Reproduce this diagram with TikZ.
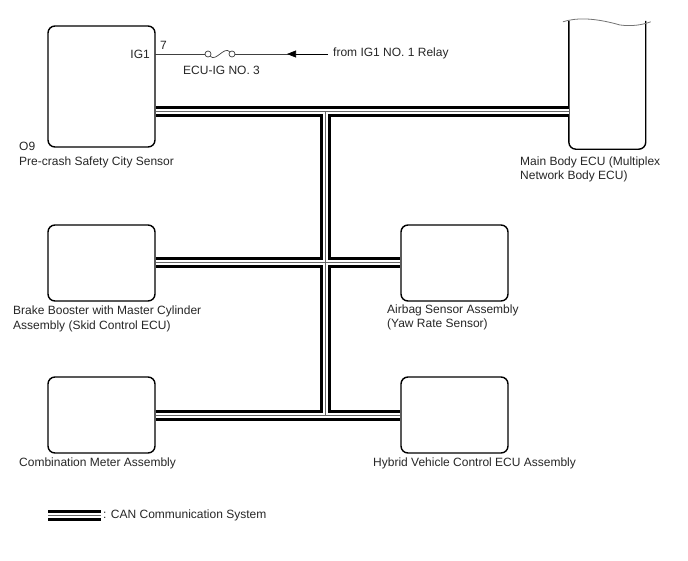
\documentclass[tikz,border=0pt]{standalone}
\usepackage{fontspec}
\setmainfont{Liberation Sans}
\usetikzlibrary{arrows.meta,positioning}
\begin{document}
\begin{tikzpicture}[
    x=1pt, y=-1pt,
    ecu/.style={draw, line width=1.4pt, rounded corners=7pt, minimum width=107pt, minimum height=76pt, inner sep=0pt},
    lbl/.style={inner sep=0pt, font=\fontsize{12pt}{14.5pt}\selectfont, align=left, text=black!85},
    wire/.style={line width=0.7pt, color=black!75},
    fuseend/.style={circle, draw, wire, fill=white, minimum size=6pt, inner sep=0pt},
    bus/.style={line width=11pt, color=black, postaction={draw, white, line width=5.4pt}, postaction={draw, black!60, line width=1.3pt}},
    arr/.style={-{Triangle[length=9pt,width=7pt]}, wire, color=black}
  ]
    \useasboundingbox (0,0) rectangle (688,560);
    \node[ecu, minimum height=121pt] (o9) at (101.5,86.5) {};
    \node[ecu] (brake) at (101.5,263) {};
    \node[ecu] (airbag) at (454.5,263) {};
    \node[ecu] (meter) at (101.5,415) {};
    \node[ecu] (hybrid) at (454.5,415) {};
    \node[minimum width=76.5pt, minimum height=128pt, inner sep=0pt] (main) at (607.3,85) {};
    \draw[line width=1.4pt, rounded corners=7pt] (main.north west) -- (main.south west) -- (main.south east) -- (main.north east);
    \draw[line width=0.8pt, color=black!55] ([xshift=-6pt,yshift=-1pt]main.north west) .. controls (575,18) and (592,17) .. (620,25) .. controls (632,26.5) and (642,25) .. ([xshift=5pt,yshift=-1pt]main.north east);
    % bus
    \coordinate (jtop) at (325.6,111.5);
    \coordinate (jmid) at (325.6,262.5);
    \coordinate (jbot) at (325.6,415.5);
    \draw[bus] (o9.east |- jtop) -- (main.west |- jtop) (jtop) -- (jbot)
      (brake.east |- jmid) -- (airbag.west |- jmid)
      (meter.east |- jbot) -- (hybrid.west |- jbot);
    % fuse line
    \coordinate (pin) at (155,54);
    \coordinate (feed) at (328,54);
    \coordinate (head) at (287,54);
    \node[fuseend] (fa) at (208,54) {};
    \node[fuseend] (fb) at (232,54) {};
    \draw[wire] (pin) -- (fa);
    \draw[wire] (fa) .. controls (216,62) and (224,46) .. (fb);
    \draw[wire] (fb) -- (feed);
    \draw[arr] (feed) -- (head);
    \node[lbl, anchor=west] (relay) at (333,53) {from IG1 NO. 1 Relay};
    \node[lbl, anchor=east] (ig) at (150,54) {IG1};
    \node[lbl, anchor=west] (seven) at (160,45) {7};
    \node[lbl, anchor=west] (fuse) at (183,70) {ECU-IG NO. 3};
    % labels
    \node[lbl, anchor=north west] (o9txt) at (19,142) {O9\\Pre-crash Safety City Sensor};
    \node[lbl, anchor=north west] (maintxt) at (520,156.5) {Main Body ECU (Multiplex\\Network Body ECU)};
    \node[lbl, anchor=north west] (braketxt) at (13,306) {Brake Booster with Master Cylinder\\Assembly (Skid Control ECU)};
    \node[lbl, anchor=north west] (airbagtxt) at (387,304.5) {Airbag Sensor Assembly\\(Yaw Rate Sensor)};
    \node[lbl, anchor=north west] (metertxt) at (19,458) {Combination Meter Assembly};
    \node[lbl, anchor=north west] (hybridtxt) at (373,458) {Hybrid Vehicle Control ECU Assembly};
    % legend
    \coordinate (lega) at (48,515.5);
    \coordinate (legb) at (101,515.5);
    \draw[bus] (lega) -- (legb);
    \node[lbl, anchor=west] (legtxt) at (103,515) {: CAN Communication System};
  \end{tikzpicture}
\end{document}
